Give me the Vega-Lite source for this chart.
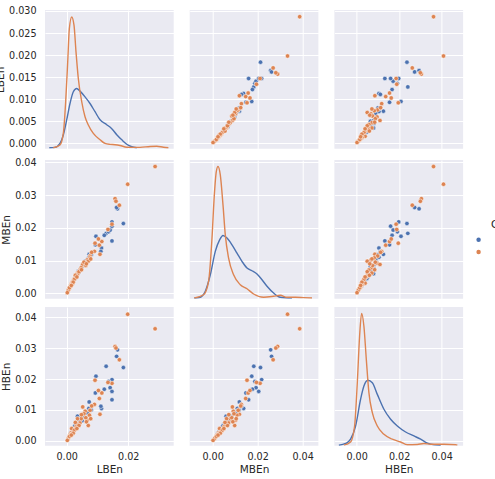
{
  "$schema": "https://vega.github.io/schema/vega-lite/v6.json",
  "padding": {"left": -5, "top": 5, "right": 0, "bottom": 0},
  "background": "white",
  "datasets": {
    "pts": [
      {"LBEn": 0.0165, "MBEn": 0.0258, "HBEn": 0.0294, "Class": "Normal"},
      {"LBEn": 0.0162, "MBEn": 0.0262, "HBEn": 0.0273, "Class": "Normal"},
      {"LBEn": 0.0184, "MBEn": 0.0213, "HBEn": 0.0237, "Class": "Normal"},
      {"LBEn": 0.0128, "MBEn": 0.0183, "HBEn": 0.0241, "Class": "Normal"},
      {"LBEn": 0.0095, "MBEn": 0.0174, "HBEn": 0.0209, "Class": "Normal"},
      {"LBEn": 0.0147, "MBEn": 0.0218, "HBEn": 0.0198, "Class": "Normal"},
      {"LBEn": 0.0136, "MBEn": 0.0188, "HBEn": 0.0192, "Class": "Normal"},
      {"LBEn": 0.0141, "MBEn": 0.0193, "HBEn": 0.0172, "Class": "Normal"},
      {"LBEn": 0.0122, "MBEn": 0.0177, "HBEn": 0.0167, "Class": "Normal"},
      {"LBEn": 0.0147, "MBEn": 0.0205, "HBEn": 0.0160, "Class": "Normal"},
      {"LBEn": 0.0147, "MBEn": 0.0160, "HBEn": 0.0133, "Class": "Normal"},
      {"LBEn": 0.0093, "MBEn": 0.0148, "HBEn": 0.0155, "Class": "Normal"},
      {"LBEn": 0.0073, "MBEn": 0.0119, "HBEn": 0.0126, "Class": "Normal"},
      {"LBEn": 0.0113, "MBEn": 0.0138, "HBEn": 0.0105, "Class": "Normal"},
      {"LBEn": 0.0111, "MBEn": 0.0128, "HBEn": 0.0112, "Class": "Normal"},
      {"LBEn": 0.0060, "MBEn": 0.0098, "HBEn": 0.0092, "Class": "Normal"},
      {"LBEn": 0.0052, "MBEn": 0.0085, "HBEn": 0.0080, "Class": "Normal"},
      {"LBEn": 0.0045, "MBEn": 0.0075, "HBEn": 0.0082, "Class": "Normal"},
      {"LBEn": 0.0040, "MBEn": 0.0064, "HBEn": 0.0062, "Class": "Normal"},
      {"LBEn": 0.0035, "MBEn": 0.0060, "HBEn": 0.0080, "Class": "Normal"},
      {"LBEn": 0.0031, "MBEn": 0.0052, "HBEn": 0.0055, "Class": "Normal"},
      {"LBEn": 0.0028, "MBEn": 0.0046, "HBEn": 0.0050, "Class": "Normal"},
      {"LBEn": 0.0024, "MBEn": 0.0041, "HBEn": 0.0042, "Class": "Normal"},
      {"LBEn": 0.0020, "MBEn": 0.0036, "HBEn": 0.0036, "Class": "Normal"},
      {"LBEn": 0.0016, "MBEn": 0.0028, "HBEn": 0.0030, "Class": "Normal"},
      {"LBEn": 0.0012, "MBEn": 0.0022, "HBEn": 0.0024, "Class": "Normal"},
      {"LBEn": 0.0068, "MBEn": 0.0104, "HBEn": 0.0090, "Class": "Normal"},
      {"LBEn": 0.0072, "MBEn": 0.0110, "HBEn": 0.0105, "Class": "Normal"},
      {"LBEn": 0.0080, "MBEn": 0.0118, "HBEn": 0.0100, "Class": "Normal"},
      {"LBEn": 0.0050, "MBEn": 0.0082, "HBEn": 0.0065, "Class": "Normal"},
      {"LBEn": 0.0038, "MBEn": 0.0068, "HBEn": 0.0070, "Class": "Normal"},
      {"LBEn": 0.0026, "MBEn": 0.0045, "HBEn": 0.0048, "Class": "Normal"},
      {"LBEn": 0.0043, "MBEn": 0.0070, "HBEn": 0.0066, "Class": "Normal"},
      {"LBEn": 0.0287, "MBEn": 0.0387, "HBEn": 0.0362, "Class": "Faulty"},
      {"LBEn": 0.0198, "MBEn": 0.0333, "HBEn": 0.0409, "Class": "Faulty"},
      {"LBEn": 0.0157, "MBEn": 0.0289, "HBEn": 0.0305, "Class": "Faulty"},
      {"LBEn": 0.0160, "MBEn": 0.0281, "HBEn": 0.0300, "Class": "Faulty"},
      {"LBEn": 0.0171, "MBEn": 0.0269, "HBEn": 0.0262, "Class": "Faulty"},
      {"LBEn": 0.0147, "MBEn": 0.0211, "HBEn": 0.0186, "Class": "Faulty"},
      {"LBEn": 0.0134, "MBEn": 0.0195, "HBEn": 0.0189, "Class": "Faulty"},
      {"LBEn": 0.0092, "MBEn": 0.0153, "HBEn": 0.0196, "Class": "Faulty"},
      {"LBEn": 0.0114, "MBEn": 0.0158, "HBEn": 0.0155, "Class": "Faulty"},
      {"LBEn": 0.0103, "MBEn": 0.0166, "HBEn": 0.0163, "Class": "Faulty"},
      {"LBEn": 0.0106, "MBEn": 0.0147, "HBEn": 0.0137, "Class": "Faulty"},
      {"LBEn": 0.0108, "MBEn": 0.0119, "HBEn": 0.0086, "Class": "Faulty"},
      {"LBEn": 0.0090, "MBEn": 0.0128, "HBEn": 0.0118, "Class": "Faulty"},
      {"LBEn": 0.0076, "MBEn": 0.0114, "HBEn": 0.0099, "Class": "Faulty"},
      {"LBEn": 0.0074, "MBEn": 0.0108, "HBEn": 0.0083, "Class": "Faulty"},
      {"LBEn": 0.0067, "MBEn": 0.0102, "HBEn": 0.0067, "Class": "Faulty"},
      {"LBEn": 0.0070, "MBEn": 0.0098, "HBEn": 0.0050, "Class": "Faulty"},
      {"LBEn": 0.0060, "MBEn": 0.0092, "HBEn": 0.0096, "Class": "Faulty"},
      {"LBEn": 0.0052, "MBEn": 0.0088, "HBEn": 0.0110, "Class": "Faulty"},
      {"LBEn": 0.0047, "MBEn": 0.0078, "HBEn": 0.0072, "Class": "Faulty"},
      {"LBEn": 0.0043, "MBEn": 0.0071, "HBEn": 0.0058, "Class": "Faulty"},
      {"LBEn": 0.0035, "MBEn": 0.0062, "HBEn": 0.0072, "Class": "Faulty"},
      {"LBEn": 0.0035, "MBEn": 0.0058, "HBEn": 0.0053, "Class": "Faulty"},
      {"LBEn": 0.0030, "MBEn": 0.0050, "HBEn": 0.0045, "Class": "Faulty"},
      {"LBEn": 0.0027, "MBEn": 0.0048, "HBEn": 0.0038, "Class": "Faulty"},
      {"LBEn": 0.0022, "MBEn": 0.0040, "HBEn": 0.0032, "Class": "Faulty"},
      {"LBEn": 0.0019, "MBEn": 0.0035, "HBEn": 0.0030, "Class": "Faulty"},
      {"LBEn": 0.0016, "MBEn": 0.0031, "HBEn": 0.0040, "Class": "Faulty"},
      {"LBEn": 0.0014, "MBEn": 0.0026, "HBEn": 0.0026, "Class": "Faulty"},
      {"LBEn": 0.0011, "MBEn": 0.0020, "HBEn": 0.0020, "Class": "Faulty"},
      {"LBEn": 0.0008, "MBEn": 0.0014, "HBEn": 0.0012, "Class": "Faulty"},
      {"LBEn": 0.0005, "MBEn": 0.0009, "HBEn": 0.0008, "Class": "Faulty"},
      {"LBEn": 0.0002, "MBEn": 0.0002, "HBEn": 0.0002, "Class": "Faulty"},
      {"LBEn": 0.0081, "MBEn": 0.0125, "HBEn": 0.0113, "Class": "Faulty"},
      {"LBEn": 0.0062, "MBEn": 0.0085, "HBEn": 0.0075, "Class": "Faulty"},
      {"LBEn": 0.0056, "MBEn": 0.0095, "HBEn": 0.0088, "Class": "Faulty"},
      {"LBEn": 0.0040, "MBEn": 0.0066, "HBEn": 0.0050, "Class": "Faulty"},
      {"LBEn": 0.0025, "MBEn": 0.0043, "HBEn": 0.0035, "Class": "Faulty"},
      {"LBEn": 0.0018, "MBEn": 0.0028, "HBEn": 0.0022, "Class": "Faulty"},
      {"LBEn": 0.0013, "MBEn": 0.0022, "HBEn": 0.0017, "Class": "Faulty"},
      {"LBEn": 0.0021, "MBEn": 0.0034, "HBEn": 0.0025, "Class": "Faulty"},
      {"LBEn": 0.0028, "MBEn": 0.0055, "HBEn": 0.0060, "Class": "Faulty"},
      {"LBEn": 0.0033, "MBEn": 0.0050, "HBEn": 0.0040, "Class": "Faulty"},
      {"LBEn": 0.0009, "MBEn": 0.0017, "HBEn": 0.0015, "Class": "Faulty"},
      {"LBEn": 0.0015, "MBEn": 0.0024, "HBEn": 0.0019, "Class": "Faulty"},
      {"LBEn": 0.0064, "MBEn": 0.0090, "HBEn": 0.0062, "Class": "Faulty"},
      {"LBEn": 0.0048, "MBEn": 0.0072, "HBEn": 0.0085, "Class": "Faulty"},
      {"LBEn": 0.0078, "MBEn": 0.0105, "HBEn": 0.0072, "Class": "Faulty"}
    ],
    "kdeLB": [
      {"LBEn": -0.00565, "density": 0, "Class": "Normal"},
      {"LBEn": -0.0038, "density": 0.2, "Class": "Normal"},
      {"LBEn": -0.00218, "density": 2.7, "Class": "Normal"},
      {"LBEn": -0.0011, "density": 8.0, "Class": "Normal"},
      {"LBEn": 0.0, "density": 17.5, "Class": "Normal"},
      {"LBEn": 0.00107, "density": 27.9, "Class": "Normal"},
      {"LBEn": 0.00215, "density": 35.3, "Class": "Normal"},
      {"LBEn": 0.00325, "density": 37.4, "Class": "Normal"},
      {"LBEn": 0.00432, "density": 35.7, "Class": "Normal"},
      {"LBEn": 0.00595, "density": 32.1, "Class": "Normal"},
      {"LBEn": 0.00757, "density": 27.9, "Class": "Normal"},
      {"LBEn": 0.0092, "density": 22.7, "Class": "Normal"},
      {"LBEn": 0.01082, "density": 17.6, "Class": "Normal"},
      {"LBEn": 0.013, "density": 14.5, "Class": "Normal"},
      {"LBEn": 0.01463, "density": 12.0, "Class": "Normal"},
      {"LBEn": 0.01625, "density": 8.2, "Class": "Normal"},
      {"LBEn": 0.01788, "density": 5.0, "Class": "Normal"},
      {"LBEn": 0.0195, "density": 2.2, "Class": "Normal"},
      {"LBEn": 0.02113, "density": 0.6, "Class": "Normal"},
      {"LBEn": 0.02275, "density": 0, "Class": "Normal"},
      {"LBEn": -0.00436, "density": 0, "Class": "Faulty"},
      {"LBEn": -0.00218, "density": 1.7, "Class": "Faulty"},
      {"LBEn": -0.0011, "density": 9.0, "Class": "Faulty"},
      {"LBEn": -0.00033, "density": 29.0, "Class": "Faulty"},
      {"LBEn": 0.00033, "density": 54.2, "Class": "Faulty"},
      {"LBEn": 0.00085, "density": 75.0, "Class": "Faulty"},
      {"LBEn": 0.00163, "density": 82.5, "Class": "Faulty"},
      {"LBEn": 0.00237, "density": 77.3, "Class": "Faulty"},
      {"LBEn": 0.00302, "density": 60.5, "Class": "Faulty"},
      {"LBEn": 0.00377, "density": 43.7, "Class": "Faulty"},
      {"LBEn": 0.00488, "density": 29.0, "Class": "Faulty"},
      {"LBEn": 0.00595, "density": 19.5, "Class": "Faulty"},
      {"LBEn": 0.00702, "density": 14.3, "Class": "Faulty"},
      {"LBEn": 0.00865, "density": 9.0, "Class": "Faulty"},
      {"LBEn": 0.01082, "density": 5.0, "Class": "Faulty"},
      {"LBEn": 0.01245, "density": 2.7, "Class": "Faulty"},
      {"LBEn": 0.01407, "density": 2.1, "Class": "Faulty"},
      {"LBEn": 0.0157, "density": 1.9, "Class": "Faulty"},
      {"LBEn": 0.01732, "density": 1.4, "Class": "Faulty"},
      {"LBEn": 0.0195, "density": 0.3, "Class": "Faulty"},
      {"LBEn": 0.02155, "density": 0.2, "Class": "Faulty"},
      {"LBEn": 0.02383, "density": 0.2, "Class": "Faulty"},
      {"LBEn": 0.02707, "density": 0.8, "Class": "Faulty"},
      {"LBEn": 0.02925, "density": 0.9, "Class": "Faulty"},
      {"LBEn": 0.0314, "density": 0.3, "Class": "Faulty"},
      {"LBEn": 0.03302, "density": 0, "Class": "Faulty"}
    ],
    "kdeMB": [
      {"MBEn": -0.00813, "density": 0, "Class": "Normal"},
      {"MBEn": -0.00547, "density": 0.4, "Class": "Normal"},
      {"MBEn": -0.00324, "density": 3.5, "Class": "Normal"},
      {"MBEn": -0.00102, "density": 12.1, "Class": "Normal"},
      {"MBEn": 0.0012, "density": 24.3, "Class": "Normal"},
      {"MBEn": 0.00311, "density": 30.3, "Class": "Normal"},
      {"MBEn": 0.00462, "density": 32.6, "Class": "Normal"},
      {"MBEn": 0.0064, "density": 31.2, "Class": "Normal"},
      {"MBEn": 0.00862, "density": 27.7, "Class": "Normal"},
      {"MBEn": 0.01084, "density": 23.4, "Class": "Normal"},
      {"MBEn": 0.01306, "density": 19.1, "Class": "Normal"},
      {"MBEn": 0.01529, "density": 15.6, "Class": "Normal"},
      {"MBEn": 0.0175, "density": 14.2, "Class": "Normal"},
      {"MBEn": 0.01973, "density": 12.5, "Class": "Normal"},
      {"MBEn": 0.02195, "density": 9.5, "Class": "Normal"},
      {"MBEn": 0.02418, "density": 6.1, "Class": "Normal"},
      {"MBEn": 0.02711, "density": 2.6, "Class": "Normal"},
      {"MBEn": 0.03009, "density": 0.4, "Class": "Normal"},
      {"MBEn": 0.03527, "density": 0, "Class": "Normal"},
      {"MBEn": -0.00813, "density": 0, "Class": "Faulty"},
      {"MBEn": -0.004, "density": 1.7, "Class": "Faulty"},
      {"MBEn": -0.00178, "density": 8.7, "Class": "Faulty"},
      {"MBEn": -0.00027, "density": 31.2, "Class": "Faulty"},
      {"MBEn": 0.00076, "density": 53.6, "Class": "Faulty"},
      {"MBEn": 0.00164, "density": 65.9, "Class": "Faulty"},
      {"MBEn": 0.0024, "density": 68.5, "Class": "Faulty"},
      {"MBEn": 0.00342, "density": 64.1, "Class": "Faulty"},
      {"MBEn": 0.00462, "density": 48.5, "Class": "Faulty"},
      {"MBEn": 0.00564, "density": 32.9, "Class": "Faulty"},
      {"MBEn": 0.00711, "density": 20.8, "Class": "Faulty"},
      {"MBEn": 0.00933, "density": 12.1, "Class": "Faulty"},
      {"MBEn": 0.0123, "density": 6.9, "Class": "Faulty"},
      {"MBEn": 0.01529, "density": 4.8, "Class": "Faulty"},
      {"MBEn": 0.01822, "density": 2.1, "Class": "Faulty"},
      {"MBEn": 0.02266, "density": 0.4, "Class": "Faulty"},
      {"MBEn": 0.02711, "density": 0.9, "Class": "Faulty"},
      {"MBEn": 0.03009, "density": 1.4, "Class": "Faulty"},
      {"MBEn": 0.03306, "density": 0.4, "Class": "Faulty"},
      {"MBEn": 0.03676, "density": 0.4, "Class": "Faulty"},
      {"MBEn": 0.04044, "density": 0.2, "Class": "Faulty"},
      {"MBEn": 0.04418, "density": 0, "Class": "Faulty"}
    ],
    "kdeHB": [
      {"HBEn": -0.00834, "density": 0, "Class": "Normal"},
      {"HBEn": -0.00518, "density": 0.9, "Class": "Normal"},
      {"HBEn": -0.00283, "density": 3.2, "Class": "Normal"},
      {"HBEn": -0.00047, "density": 10.2, "Class": "Normal"},
      {"HBEn": 0.00188, "density": 24.4, "Class": "Normal"},
      {"HBEn": 0.00344, "density": 31.4, "Class": "Normal"},
      {"HBEn": 0.00532, "density": 34.5, "Class": "Normal"},
      {"HBEn": 0.0074, "density": 33.2, "Class": "Normal"},
      {"HBEn": 0.00975, "density": 27.0, "Class": "Normal"},
      {"HBEn": 0.01286, "density": 19.1, "Class": "Normal"},
      {"HBEn": 0.01601, "density": 13.8, "Class": "Normal"},
      {"HBEn": 0.01917, "density": 10.2, "Class": "Normal"},
      {"HBEn": 0.02308, "density": 7.0, "Class": "Normal"},
      {"HBEn": 0.02699, "density": 4.9, "Class": "Normal"},
      {"HBEn": 0.03014, "density": 3.2, "Class": "Normal"},
      {"HBEn": 0.0333, "density": 1.1, "Class": "Normal"},
      {"HBEn": 0.03641, "density": 0.2, "Class": "Normal"},
      {"HBEn": 0.03956, "density": 0, "Class": "Normal"},
      {"HBEn": -0.00598, "density": 0, "Class": "Faulty"},
      {"HBEn": -0.00283, "density": 1.7, "Class": "Faulty"},
      {"HBEn": -0.00094, "density": 10.2, "Class": "Faulty"},
      {"HBEn": 0.00033, "density": 33.2, "Class": "Faulty"},
      {"HBEn": 0.00141, "density": 57.9, "Class": "Faulty"},
      {"HBEn": 0.00236, "density": 70.0, "Class": "Faulty"},
      {"HBEn": 0.00344, "density": 63.2, "Class": "Faulty"},
      {"HBEn": 0.00457, "density": 45.6, "Class": "Faulty"},
      {"HBEn": 0.00579, "density": 27.9, "Class": "Faulty"},
      {"HBEn": 0.0074, "density": 17.3, "Class": "Faulty"},
      {"HBEn": 0.00975, "density": 10.2, "Class": "Faulty"},
      {"HBEn": 0.01286, "density": 5.8, "Class": "Faulty"},
      {"HBEn": 0.01681, "density": 3.2, "Class": "Faulty"},
      {"HBEn": 0.02072, "density": 1.7, "Class": "Faulty"},
      {"HBEn": 0.02388, "density": 0.2, "Class": "Faulty"},
      {"HBEn": 0.02859, "density": 0.4, "Class": "Faulty"},
      {"HBEn": 0.0317, "density": 0.9, "Class": "Faulty"},
      {"HBEn": 0.03485, "density": 0.5, "Class": "Faulty"},
      {"HBEn": 0.04112, "density": 0.5, "Class": "Faulty"},
      {"HBEn": 0.04663, "density": 0.2, "Class": "Faulty"},
      {"HBEn": 0.04743, "density": 0, "Class": "Faulty"}
    ]
  },
  "columns": 3,
  "spacing": {"row": 8, "column": 15.7},
  "resolve": {"scale": {"x": "independent", "y": "independent"}},
  "concat": [
    {
      "width": 128.7, "height": 138.7,
      "layer": [
        {
          "data": {"name": "pts"},
          "mark": {"type": "point", "opacity": 0},
          "encoding": {
            "x": {"field": "LBEn", "type": "quantitative", "scale": {"domain": [-0.007045, 0.03474], "nice": false, "zero": false}, "axis": {"values": [0, 0.02], "labels": false, "title": null}},
            "y": {"field": "LBEn", "type": "quantitative", "scale": {"domain": [-0.0012, 0.03022], "nice": false, "zero": false}, "axis": {"values": [0, 0.005, 0.01, 0.015, 0.02, 0.025, 0.03], "format": ".3f", "title": "LBEn"}}
          }
        },
        {
          "data": {"name": "kdeLB"},
          "mark": {"type": "line", "strokeWidth": 1.4, "interpolate": "monotone", "clip": true},
          "encoding": {
            "x": {"field": "LBEn", "type": "quantitative", "scale": {"domain": [-0.007045, 0.03474], "nice": false, "zero": false}},
            "y": {"field": "density", "type": "quantitative", "scale": {"domain": [-0.63, 86.9], "nice": false, "zero": false}, "axis": null},
            "stroke": {"field": "Class", "type": "nominal", "scale": {"range": ["#DD8452", "#4C72B0"]}, "legend": null}
          }
        }
      ],
      "resolve": {"scale": {"y": "independent"}}
    },
    {
      "width": 128.7, "height": 138.7,
      "data": {"name": "pts"},
      "mark": {"type": "circle", "size": 20, "opacity": 1, "stroke": "white", "strokeWidth": 0.5},
      "encoding": {
        "x": {"field": "MBEn", "type": "quantitative", "scale": {"domain": [-0.010178, 0.04702], "nice": false, "zero": false}, "axis": {"values": [0, 0.02, 0.04], "labels": false, "title": null}},
        "y": {"field": "LBEn", "type": "quantitative", "scale": {"domain": [-0.0012, 0.03022], "nice": false, "zero": false}, "axis": {"values": [0, 0.005, 0.01, 0.015, 0.02, 0.025, 0.03], "labels": false, "title": null}},
        "color": {"field": "Class", "type": "nominal", "title": "Class", "scale": {"domain": ["Normal", "Faulty"], "range": ["#4C72B0", "#DD8452"]}}
      }
    },
    {
      "width": 128.7, "height": 138.7,
      "data": {"name": "pts"},
      "mark": {"type": "circle", "size": 20, "opacity": 1, "stroke": "white", "strokeWidth": 0.5},
      "encoding": {
        "x": {"field": "HBEn", "type": "quantitative", "scale": {"domain": [-0.010447, 0.050118], "nice": false, "zero": false}, "axis": {"values": [0, 0.02, 0.04], "labels": false, "title": null}},
        "y": {"field": "LBEn", "type": "quantitative", "scale": {"domain": [-0.0012, 0.03022], "nice": false, "zero": false}, "axis": {"values": [0, 0.005, 0.01, 0.015, 0.02, 0.025, 0.03], "labels": false, "title": null}},
        "color": {"field": "Class", "type": "nominal", "title": "Class", "scale": {"domain": ["Normal", "Faulty"], "range": ["#4C72B0", "#DD8452"]}}
      }
    },
    {
      "width": 128.7, "height": 138.7,
      "data": {"name": "pts"},
      "mark": {"type": "circle", "size": 20, "opacity": 1, "stroke": "white", "strokeWidth": 0.5},
      "encoding": {
        "x": {"field": "LBEn", "type": "quantitative", "scale": {"domain": [-0.007045, 0.03474], "nice": false, "zero": false}, "axis": {"values": [0, 0.02], "labels": false, "title": null}},
        "y": {"field": "MBEn", "type": "quantitative", "scale": {"domain": [-0.00165, 0.0407], "nice": false, "zero": false}, "axis": {"values": [0, 0.01, 0.02, 0.03, 0.04], "format": ".2f", "title": "MBEn"}},
        "color": {"field": "Class", "type": "nominal", "title": "Class", "scale": {"domain": ["Normal", "Faulty"], "range": ["#4C72B0", "#DD8452"]}}
      }
    },
    {
      "width": 128.7, "height": 138.7,
      "layer": [
        {
          "data": {"name": "pts"},
          "mark": {"type": "point", "opacity": 0},
          "encoding": {
            "x": {"field": "MBEn", "type": "quantitative", "scale": {"domain": [-0.010178, 0.04702], "nice": false, "zero": false}, "axis": {"values": [0, 0.02, 0.04], "labels": false, "title": null}},
            "y": {"field": "MBEn", "type": "quantitative", "scale": {"domain": [-0.00165, 0.0407], "nice": false, "zero": false}, "axis": {"values": [0, 0.01, 0.02, 0.03, 0.04], "labels": false, "title": null}}
          }
        },
        {
          "data": {"name": "kdeMB"},
          "mark": {"type": "line", "strokeWidth": 1.4, "interpolate": "monotone", "clip": true},
          "encoding": {
            "x": {"field": "MBEn", "type": "quantitative", "scale": {"domain": [-0.010178, 0.04702], "nice": false, "zero": false}},
            "y": {"field": "density", "type": "quantitative", "scale": {"domain": [-0.36, 71.9], "nice": false, "zero": false}, "axis": null},
            "stroke": {"field": "Class", "type": "nominal", "scale": {"range": ["#DD8452", "#4C72B0"]}, "legend": null}
          }
        }
      ],
      "resolve": {"scale": {"y": "independent"}}
    },
    {
      "width": 128.7, "height": 138.7,
      "data": {"name": "pts"},
      "mark": {"type": "circle", "size": 20, "opacity": 1, "stroke": "white", "strokeWidth": 0.5},
      "encoding": {
        "x": {"field": "HBEn", "type": "quantitative", "scale": {"domain": [-0.010447, 0.050118], "nice": false, "zero": false}, "axis": {"values": [0, 0.02, 0.04], "labels": false, "title": null}},
        "y": {"field": "MBEn", "type": "quantitative", "scale": {"domain": [-0.00165, 0.0407], "nice": false, "zero": false}, "axis": {"values": [0, 0.01, 0.02, 0.03, 0.04], "labels": false, "title": null}},
        "color": {"field": "Class", "type": "nominal", "title": "Class", "scale": {"domain": ["Normal", "Faulty"], "range": ["#4C72B0", "#DD8452"]}}
      }
    },
    {
      "width": 128.7, "height": 138.7,
      "data": {"name": "pts"},
      "mark": {"type": "circle", "size": 20, "opacity": 1, "stroke": "white", "strokeWidth": 0.5},
      "encoding": {
        "x": {"field": "LBEn", "type": "quantitative", "scale": {"domain": [-0.007045, 0.03474], "nice": false, "zero": false}, "axis": {"values": [0, 0.02], "format": ".2f", "title": "LBEn"}},
        "y": {"field": "HBEn", "type": "quantitative", "scale": {"domain": [-0.00152, 0.04323], "nice": false, "zero": false}, "axis": {"values": [0, 0.01, 0.02, 0.03, 0.04], "format": ".2f", "title": "HBEn"}},
        "color": {"field": "Class", "type": "nominal", "title": "Class", "scale": {"domain": ["Normal", "Faulty"], "range": ["#4C72B0", "#DD8452"]}}
      }
    },
    {
      "width": 128.7, "height": 138.7,
      "data": {"name": "pts"},
      "mark": {"type": "circle", "size": 20, "opacity": 1, "stroke": "white", "strokeWidth": 0.5},
      "encoding": {
        "x": {"field": "MBEn", "type": "quantitative", "scale": {"domain": [-0.010178, 0.04702], "nice": false, "zero": false}, "axis": {"values": [0, 0.02, 0.04], "format": ".2f", "title": "MBEn"}},
        "y": {"field": "HBEn", "type": "quantitative", "scale": {"domain": [-0.00152, 0.04323], "nice": false, "zero": false}, "axis": {"values": [0, 0.01, 0.02, 0.03, 0.04], "labels": false, "title": null}},
        "color": {"field": "Class", "type": "nominal", "title": "Class", "scale": {"domain": ["Normal", "Faulty"], "range": ["#4C72B0", "#DD8452"]}}
      }
    },
    {
      "width": 128.7, "height": 138.7,
      "layer": [
        {
          "data": {"name": "pts"},
          "mark": {"type": "point", "opacity": 0},
          "encoding": {
            "x": {"field": "HBEn", "type": "quantitative", "scale": {"domain": [-0.010447, 0.050118], "nice": false, "zero": false}, "axis": {"values": [0, 0.02, 0.04], "format": ".2f", "title": "HBEn"}},
            "y": {"field": "HBEn", "type": "quantitative", "scale": {"domain": [-0.00152, 0.04323], "nice": false, "zero": false}, "axis": {"values": [0, 0.01, 0.02, 0.03, 0.04], "labels": false, "title": null}}
          }
        },
        {
          "data": {"name": "kdeHB"},
          "mark": {"type": "line", "strokeWidth": 1.4, "interpolate": "monotone", "clip": true},
          "encoding": {
            "x": {"field": "HBEn", "type": "quantitative", "scale": {"domain": [-0.010447, 0.050118], "nice": false, "zero": false}},
            "y": {"field": "density", "type": "quantitative", "scale": {"domain": [-0.27, 73.4], "nice": false, "zero": false}, "axis": null},
            "stroke": {"field": "Class", "type": "nominal", "scale": {"range": ["#DD8452", "#4C72B0"]}, "legend": null}
          }
        }
      ],
      "resolve": {"scale": {"y": "independent"}}
    }
  ],
  "config": {
    "font": "DejaVu Sans",
    "view": {"fill": "#EAEAF2", "stroke": null},
    "axis": {"domain": false, "ticks": false, "grid": true, "gridColor": "#FFFFFF", "gridWidth": 1, "gridOpacity": 1, "labelFont": "DejaVu Sans", "labelFontSize": 9.6, "labelColor": "#262626", "titleFont": "DejaVu Sans", "titleFontSize": 10.5, "titleFontWeight": "normal", "titleColor": "#262626", "labelFlush": false, "labelOverlap": false},
    "axisX": {"labelPadding": 6, "titlePadding": 3},
    "axisY": {"labelPadding": 9, "titlePadding": 3},
    "legend": {"orient": "none", "legendX": 428.8, "legendY": 210.45, "padding": 0, "titleAnchor": "middle", "symbolType": "circle", "symbolSize": 20, "symbolStrokeWidth": 0, "rowPadding": 1.2, "titlePadding": 4, "labelOffset": 18.2, "labelFont": "DejaVu Sans", "labelFontSize": 9.6, "labelColor": "#262626", "titleFont": "DejaVu Sans", "titleFontSize": 10.5, "titleFontWeight": "normal", "titleColor": "#262626"}
  }
}
